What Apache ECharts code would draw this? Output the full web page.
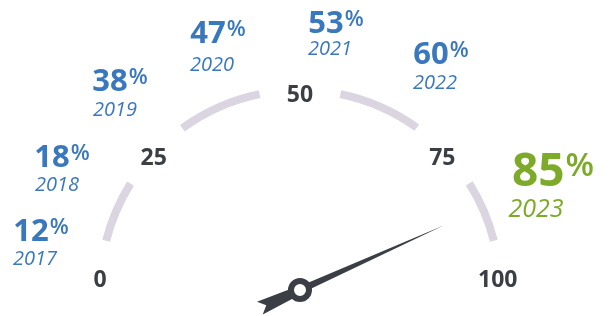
<!DOCTYPE html>
<html>
<head>
<meta charset="utf-8">
<script src="https://cdn.jsdelivr.net/npm/echarts@6/dist/echarts.min.js"></script>
<style>
html, body { margin: 0; padding: 0; background: #fff; }
#chart { width: 609px; height: 316px; }
</style>
</head>
<body>
<div id="chart"></div>
<script>
// data
var years = ['2017', '2018', '2019', '2020', '2021', '2022', '2023'];
var shares = [12, 18, 38, 47, 53, 60, 85];
var scaleTicks = [0, 25, 50, 75, 100];

// where each year label sits, relative to the gauge centre (px)
var pctOffsets = [[-259, -58], [-238, -132], [-180, -208], [-82, -256], [36, -266], [141, -235], [253, -117]];
var yearOffsets = [[-265, -31], [-243, -105], [-185, -180], [-88, -225], [30, -241], [135, -207], [236, -80]];

var BLUE = '#3a78bd', GREEN = '#7daa28', ARC = '#dad5e0', DARK = '#3b3f45';
var FONT = 'Open Sans';

var chart = echarts.init(document.getElementById('chart'));

var last = shares.length - 1;
var labelData = [];
for (var i = 0; i < years.length; i++) {
	var isNow = i === last;
	labelData.push({
		name: years[i],
		value: shares[i],
		title: {
			offsetCenter: yearOffsets[i],
			color: isNow ? GREEN : BLUE,
			fontSize: isNow ? 25 : 20,
			fontStyle: 'italic',
			fontWeight: 'normal',
			fontFamily: FONT
		},
		detail: {
			offsetCenter: pctOffsets[i],
			formatter: isNow ? '{nb|{value}}{pb|%}' : '{n|{value}}{p|%}'
		}
	});
}

// nudges for the scale numbers (tick labels are aligned by the gauge, this moves them)
var tickPad = {
	0: [0, 0, 50, 11],
	25: [34, 0, 0, 0],
	50: [12, 0, 0, 0],
	75: [34, 4, 0, 0],
	100: [0, 0, 50, 0]
};
var tickRich = {};
scaleTicks.forEach(function(t) {
	tickRich['t' + t] = {
		color: DARK, fontFamily: FONT, fontWeight: 'bold', fontSize: 23,
		padding: tickPad[t]
	};
});

var option = {
	backgroundColor: '#fff',
	series: [{
		type: 'gauge',
		center: [300, 290],
		radius: 204,
		startAngle: 184,
		endAngle: -4,
		min: scaleTicks[0],
		max: scaleTicks[scaleTicks.length - 1],
		splitNumber: scaleTicks.length - 1,
		axisLine: {
			lineStyle: {
				width: 8,
				color: [[0.097, 'rgba(0,0,0,0)'], [0.192, ARC], [0.3085, 'rgba(0,0,0,0)'], [0.438, ARC],
					[0.562, 'rgba(0,0,0,0)'], [0.69, ARC], [0.8075, 'rgba(0,0,0,0)'], [0.903, ARC], [1, 'rgba(0,0,0,0)']]
			}
		},
		axisTick: { show: false },
		splitLine: { show: false },
		axisLabel: {
			show: true,
			distance: -34,
			color: DARK,
			fontFamily: FONT,
			fontWeight: 'bold',
			fontSize: 23,
			formatter: function(v) {
				return '{t' + v + '|' + v + '}';
			},
			rich: tickRich
		},
		pointer: {
			show: true,
			icon: 'path://M8 0L11.5 158L13 170L15 202L8 195L1 202L3 170L4.5 158Z',
			width: 14,
			length: 202,
			offsetCenter: [0, 44],
			itemStyle: { color: DARK }
		},
		anchor: {
			show: true,
			showAbove: true,
			size: 18,
			itemStyle: { color: '#fff', borderColor: DARK, borderWidth: 6 }
		},
		itemStyle: { color: DARK },
		title: { show: false },
		detail: { show: false },
		animation: false,
		data: [{ value: shares[last] }]
	}, {
		type: 'gauge',
		center: [300, 290],
		radius: 204,
		startAngle: 184,
		endAngle: -4,
		min: 0,
		max: 100,
		axisLine: { show: false },
		axisTick: { show: false },
		splitLine: { show: false },
		axisLabel: { show: false },
		pointer: { show: false },
		anchor: { show: false },
		detail: {
			valueAnimation: false,
			rich: {
				n: { color: BLUE, fontSize: 31, fontWeight: 'bold', fontFamily: FONT },
				p: { color: BLUE, fontSize: 22, fontWeight: 600, fontFamily: FONT, padding: [0, 0, 9, 1] },
				nb: { color: GREEN, fontSize: 46, fontWeight: 'bold', fontFamily: FONT },
				pb: { color: GREEN, fontSize: 33, fontWeight: 600, fontFamily: FONT, padding: [0, 0, 13, 1] }
			}
		},
		animation: false,
		data: labelData
	}]
};

chart.setOption(option);
</script>
</body>
</html>
